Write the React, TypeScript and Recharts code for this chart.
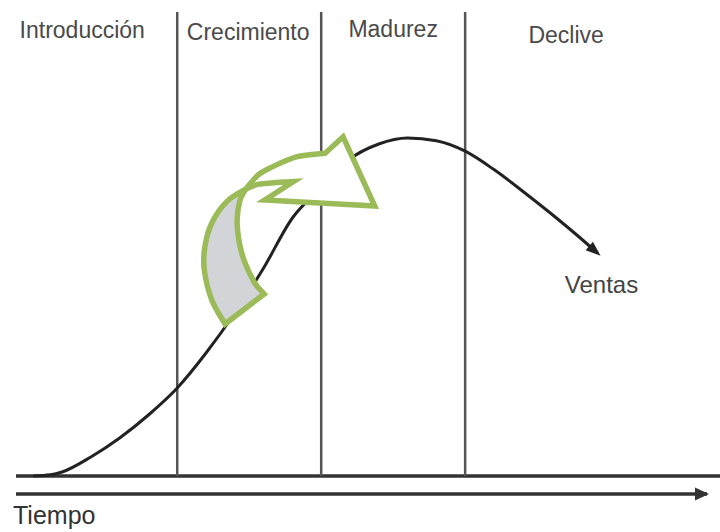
import { LineChart, Line, XAxis, YAxis, ReferenceLine, ReferenceArea, ReferenceDot } from "recharts";

// tiempo (eje x) y ventas (eje y)
const tiempo = [0, 3, 5, 10, 15, 20, 25, 30, 35, 40, 45, 50, 55, 60, 65, 70, 75, 80, 85, 90, 95, 98];
const ventas = [0, 0.3, 1, 4.75, 9.5, 15.25, 22, 30.75, 40.75, 52, 64.5, 72, 79.25, 83, 84.5, 83.8, 81.2, 76.6, 71.2, 65.5, 59.5, 55.7];

const etapas = ["Introducción", "Crecimiento", "Madurez", "Declive"];
const limitesEtapas = [0, 25, 50, 75, 100];

// flecha verde (cola gris + cabeza blanca), en unidades del gráfico
const colaExterior = [[33.3, 38], [31.0, 44], [29.7, 51.5], [29.8, 57.3], [31.0, 63.25], [33.6, 68.6], [36.9, 71.75]];
const colaInterior = [[36.9, 71.75], [35.9, 69], [35.4, 64], [35.8, 58.2], [36.8, 53.2], [38.5, 48.2], [40.1, 45.5]];
const cabezaSuperior = [[36.9, 71.75], [39.0, 75.2], [41.1, 77], [45.7, 79.8], [50.7, 80.7]];
const cabezaPunta = [[53.8, 84.8], [59.3, 67.5], [40.2, 69], [45.2, 73.6]];
const cabezaInferior = [[45.2, 73.6], [42.3, 73.4], [39.0, 72.9], [36.9, 71.75]];

const data = tiempo.map((t, i) => ({ t, ventas: ventas[i] }));

const X_DOMAIN: [number, number] = [-3, 117];
const Y_DOMAIN: [number, number] = [-4.5, 116];
const FONT = "'Liberation Sans', Arial, sans-serif";

const todos = [...colaExterior, ...colaInterior, ...cabezaSuperior, ...cabezaPunta, ...cabezaInferior];
const fx1 = Math.min(...todos.map((p) => p[0]));
const fx2 = Math.max(...todos.map((p) => p[0]));
const fy1 = Math.min(...todos.map((p) => p[1]));
const fy2 = Math.max(...todos.map((p) => p[1]));

// curva suave (catmull-rom) a través de puntos en pixeles
const suave = (pts: number[][]) => {
  let d = "";
  for (let i = 0; i < pts.length - 1; i++) {
    const p0 = pts[i - 1] || pts[i];
    const p1 = pts[i];
    const p2 = pts[i + 1];
    const p3 = pts[i + 2] || p2;
    const c1 = [p1[0] + (p2[0] - p0[0]) / 6, p1[1] + (p2[1] - p0[1]) / 6];
    const c2 = [p2[0] - (p3[0] - p1[0]) / 6, p2[1] - (p3[1] - p1[1]) / 6];
    d += ` C${c1[0]},${c1[1]} ${c2[0]},${c2[1]} ${p2[0]},${p2[1]}`;
  }
  return d;
};

const FlechaVerde = (props: any) => {
  const { x, y, width, height } = props;
  const map = (arr: number[][]) =>
    arr.map(([dx, dy]) => [x + ((dx - fx1) / (fx2 - fx1)) * width, y + ((fy2 - dy) / (fy2 - fy1)) * height]);
  const ext = map(colaExterior);
  const int = map(colaInterior);
  const sup = map(cabezaSuperior);
  const pun = map(cabezaPunta);
  const inf = map(cabezaInferior);
  const cola = `M${ext[0][0]},${ext[0][1]}${suave(ext)}${suave(int)} Z`;
  const cabeza =
    `M${sup[0][0]},${sup[0][1]}${suave(sup)} ` +
    pun.map((p) => `L${p[0]},${p[1]}`).join(" ") +
    `${suave(inf)} Z`;
  return (
    <g>
      <path d={cola} fill="#d3d4d7" stroke="#9bbb59" strokeWidth={5.5} strokeLinejoin="miter" />
      <path d={cabeza} fill="#ffffff" stroke="#9bbb59" strokeWidth={5.5} strokeLinejoin="miter" />
    </g>
  );
};

const PuntaVentas = (props: any) => {
  const { cx, cy, index } = props;
  if (index !== data.length - 1) return <g key={`d${index}`} />;
  const ang = (41 * Math.PI) / 180;
  const len = 15;
  const half = 5.5;
  const ux = Math.cos(ang);
  const uy = Math.sin(ang);
  const tip = [cx + ux * 4, cy + uy * 4];
  const bx = tip[0] - ux * len;
  const by = tip[1] - uy * len;
  const pts = `${tip[0]},${tip[1]} ${bx - uy * half},${by + ux * half} ${bx + uy * half},${by - ux * half}`;
  return <polygon key={`d${index}`} points={pts} fill="#222" />;
};

const PuntaTiempo = (props: any) => {
  const { cx, cy } = props;
  return <polygon points={`${cx + 2},${cy} ${cx - 12},${cy - 6.5} ${cx - 12},${cy + 6.5}`} fill="#333" />;
};

const desplazEtiqueta = [-23, -1, 0, 29];
const desplazVertical = [2, 4, 1, 7];

export default function App() {
  return (
    <div style={{ position: "absolute", left: 0, top: 0, width: 720, height: 532, background: "#fff" }}>
      <LineChart width={720} height={532} data={data} margin={{ top: 12, right: 13, bottom: 0, left: 16 }}>
        <XAxis
          dataKey="t"
          type="number"
          domain={X_DOMAIN}
          allowDataOverflow
          tick={false}
          tickLine={false}
          height={38}
          axisLine={{ stroke: "#333", strokeWidth: 3.5 }}
          label={{
            content: () => (
              <text x={13} y={524} fontFamily={FONT} fontSize={25} fill="#333">
                Tiempo
              </text>
            ),
          }}
        />
        <YAxis type="number" domain={Y_DOMAIN} hide allowDataOverflow />
        <ReferenceLine
          segment={[{ x: -3, y: 0 }, { x: 119.3, y: 0 }]}
          stroke="#333"
          strokeWidth={3.5}
          ifOverflow="visible"
        />
        {limitesEtapas.slice(1, 4).map((b) => (
          <ReferenceLine
            key={b}
            segment={[{ x: b, y: 0 }, { x: b, y: 116 }]}
            stroke="#555"
            strokeWidth={2.5}
            ifOverflow="visible"
          />
        ))}
        {etapas.map((e, i) => (
          <ReferenceDot
            key={e}
            x={(limitesEtapas[i] + limitesEtapas[i + 1]) / 2}
            y={110}
            r={0}
            ifOverflow="visible"
            shape={(p: any) => (
              <text
                x={p.cx + desplazEtiqueta[i]}
                y={p.cy + desplazVertical[i]}
                textAnchor="middle"
                fontFamily={FONT}
                fontSize={23}
                fill="#4a4a4a"
              >
                {e}
              </text>
            )}
          />
        ))}
        <Line
          type="monotone"
          dataKey="ventas"
          stroke="#222"
          strokeWidth={3}
          dot={PuntaVentas}
          activeDot={false}
          isAnimationActive={false}
        />
        <ReferenceDot
          x={92.3}
          y={45.75}
          r={0}
          ifOverflow="visible"
          shape={(p: any) => (
            <text x={p.cx} y={p.cy} fontFamily={FONT} fontSize={24} fill="#444">
              Ventas
            </text>
          )}
        />
        <ReferenceDot x={117} y={-4.5} r={0} ifOverflow="visible" shape={PuntaTiempo} />
        <ReferenceArea
          x1={fx1}
          x2={fx2}
          y1={fy1}
          y2={fy2}
          ifOverflow="visible"
          shape={FlechaVerde}
          zIndex={1000}
        />
      </LineChart>
    </div>
  );
}
